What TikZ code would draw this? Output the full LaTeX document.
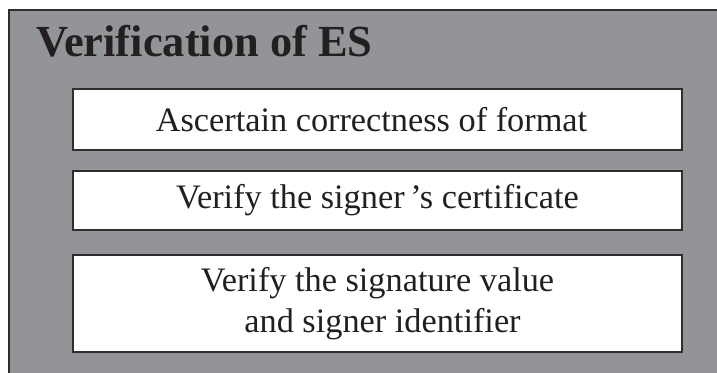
\documentclass[tikz,border=0pt]{standalone}
\usepackage{fontspec}
\setmainfont{Liberation Serif}
\definecolor{panelgray}{HTML}{939498}
\definecolor{edgegray}{HTML}{2E2E2E}
\definecolor{inkc}{HTML}{231F20}
\begin{document}
\begin{tikzpicture}[x=1pt,y=1pt,
  stepbox/.style={draw=edgegray, line width=2pt, fill=white, inner sep=0pt,
    minimum width=609pt, text=inkc, align=center,
    font=\fontsize{34.3}{41}\selectfont},
  titletext/.style={text=inkc, inner sep=0pt, anchor=base west,
    font=\fontsize{44.4}{48}\selectfont\bfseries}]
\useasboundingbox (0,0) rectangle (717,-372);
\fill[white] (0,0) rectangle (717,-372);
\draw[edgegray, line width=2pt, fill=panelgray] (9,-10) rectangle (730,-390);
\node[titletext] (title) at (36,-56) {Verification of ES};
\node[stepbox, minimum height=61pt] (b1) at (377.5,-119.5) {\hspace*{-12pt}Ascertain correctness of format};
\node[stepbox, minimum height=59pt] (b2) at (377.5,-200.5) {Verify the signer\,’s certificate};
\node[stepbox, minimum height=97pt] (b3) at (377.5,-303.5) {Verify the signature value\\\hspace*{10pt}and signer identifier};
\end{tikzpicture}
\end{document}
